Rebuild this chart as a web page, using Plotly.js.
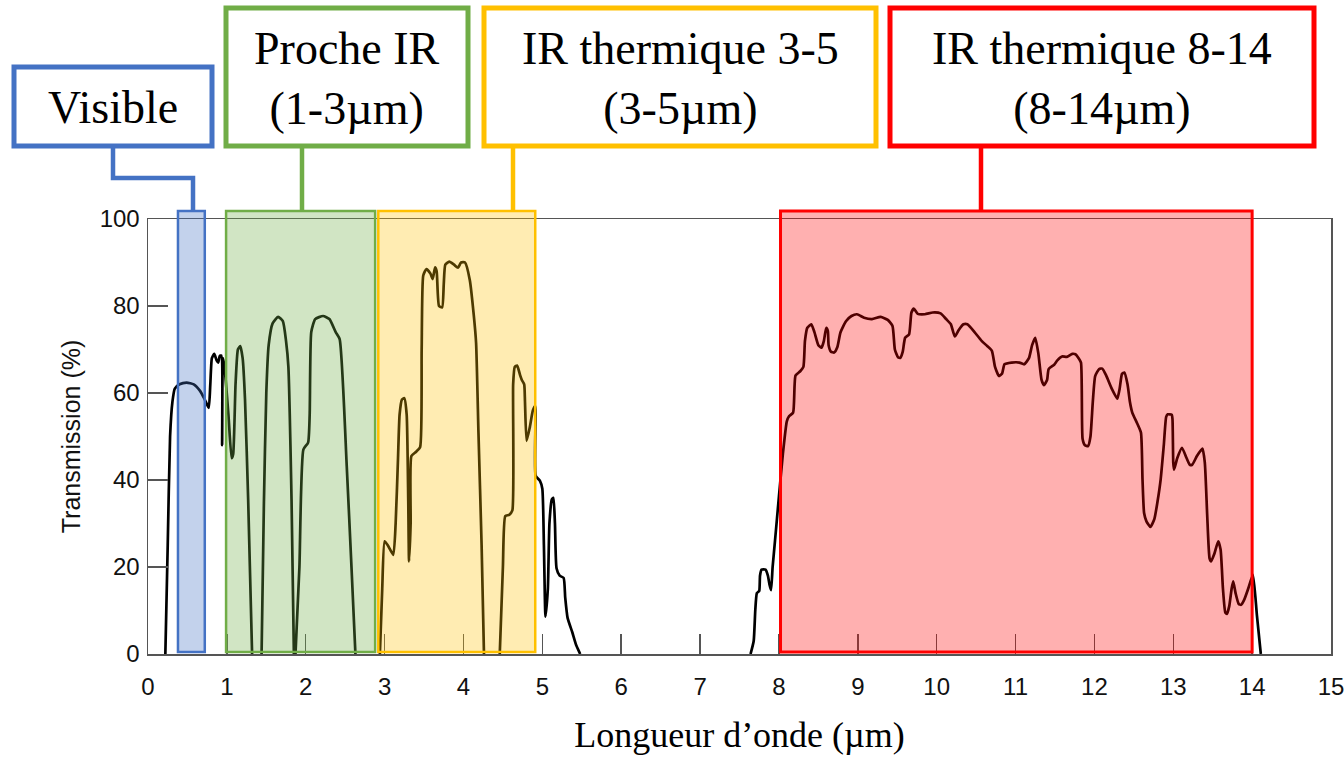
<!DOCTYPE html>
<html>
<head>
<meta charset="utf-8">
<script src="https://cdn.plot.ly/plotly-3.0.1.min.js"></script>
<style>html,body{margin:0;padding:0;background:#fff;}#chart{width:1344px;height:758px;}</style>
</head>
<body>
<div id="chart"></div>
<script>
// Atmospheric transmission curve (wavelength in µm, transmission in %); null breaks the line where it sits at 0
const wavelength = [
  0.22,0.25,0.28,0.31,0.34,0.40,0.49,0.58,0.66,0.72,0.77,0.79,0.81,0.84,0.87,0.89,0.91,0.93,0.94,0.95,0.97,1.02,1.06,1.08,1.11,1.14,1.17,1.20,1.23,1.27,1.32,
  null,
  1.44,1.47,1.50,1.53,1.58,1.65,1.71,1.75,1.78,1.82,1.85,
  null,
  1.87,1.92,1.97,2.03,2.05,2.07,2.12,2.22,2.30,2.38,2.43,2.52,2.58,2.63,
  null,
  2.94,2.97,3.00,3.04,3.11,3.14,3.17,3.19,3.22,3.25,3.28,3.30,3.31,3.33,3.34,3.40,3.45,3.47,3.49,3.53,3.58,3.61,3.64,3.66,3.69,3.73,3.75,3.77,3.82,3.88,3.93,3.97,4.02,4.08,4.13,4.16,4.19,4.23,4.26,
  null,
  4.46,4.50,4.53,4.58,4.62,4.63,4.65,4.68,4.72,4.74,4.77,4.78,4.80,4.84,4.88,4.91,4.915,4.97,5.00,5.02,5.04,5.07,5.09,5.12,5.14,5.16,5.18,5.22,5.27,5.29,5.32,5.38,5.43,5.48,
  null,
  7.64,7.68,7.70,7.72,7.75,7.76,7.78,7.83,7.86,7.88,7.90,7.92,7.95,8.00,8.05,8.10,8.13,8.18,8.21,8.27,8.31,8.33,8.36,8.41,8.45,8.50,8.54,8.57,8.60,8.62,8.63,8.66,8.70,8.74,8.78,8.85,8.92,8.99,9.08,9.18,9.29,9.38,9.44,9.47,9.51,9.54,9.57,9.60,9.65,9.68,9.71,9.76,9.85,9.95,10.05,10.12,10.18,10.23,10.28,10.34,10.39,10.48,10.57,10.64,10.70,10.74,10.79,10.83,10.86,10.95,11.05,11.11,11.17,11.21,11.25,11.29,11.33,11.36,11.40,11.42,11.49,11.53,11.59,11.65,11.72,11.76,11.80,11.83,11.85,11.88,11.92,11.95,11.98,12.01,12.06,12.10,12.15,12.22,12.29,12.32,12.35,12.38,12.42,12.45,12.48,12.54,12.59,12.61,12.63,12.66,12.71,12.76,12.80,12.84,12.88,12.91,12.93,12.98,12.99,13.00,13.01,13.05,13.11,13.17,13.21,13.24,13.30,13.37,13.40,13.43,13.46,13.48,13.52,13.57,13.60,13.63,13.66,13.68,13.71,13.74,13.76,13.79,13.83,13.86,13.90,13.95,14.01,14.06,14.11
];
const transmission = [
  0,25,50,58,61,62,62.4,62,60.5,58.5,56.6,62,68,69,67.5,67,68.5,68.6,48,68,66,55,45,46,62,70,70.8,68,58.5,35.5,0,
  null,
  0,35,60,71,76,77.5,76.5,72,66,35.5,0,
  null,
  0,20,47,48.6,55,74,77,77.7,77,74,72.4,43.2,20,0,
  null,
  0,15,25.9,25,22.8,30,45,55,58.5,58.8,55,35,21.3,30,45.5,46.5,47.5,70,87,88.5,87.5,86.2,88.9,88,80,79.7,85,89.5,90.2,89.5,88.8,90,90,86,78,71.5,51,25,0,
  null,
  0,20,31.7,32,33,62,66,66.3,64,63,62,58,49,52,56,57,41,39.8,38,25,8.6,15,30,35.5,35.9,30,19.7,18,17.5,13,8.3,5,2,0,
  null,
  0,3,10,14,14.5,18,19.4,19.4,18,16,14.7,20,26,36.2,46,53.5,54.7,55.5,64,65,66,72,75,75.8,74,71,70.4,72,75,74.3,71,69.5,69.3,70.5,73.9,76.5,77.7,78.1,77.3,77,77.5,76.8,75.4,70,68.2,68.1,69.5,72.7,73.5,78.5,79.4,78.2,78.1,78.5,78.3,77,75.8,73,74.5,75.8,75.8,74,72,70.8,69.7,66,63.9,64.5,66.6,67,67,66.6,68,71,72.7,69,63,61.8,63,65.5,66.5,67.5,68.4,68.3,69,68.9,68,67,49.5,48,47.8,50,58,63.9,65.5,65.6,64,61,58.7,61,64.4,64.7,62,58,55.5,53.1,50.9,40.1,32.4,30.5,29.2,31,35,40.1,48,54.5,55.1,55,54,44,42.4,45,47.4,45,43.5,43.5,45.5,47.2,44,32,22,21.3,23,25.9,24,15,9.5,9.2,11,15,16.7,14,11.5,11.3,12.5,15,18.2,9,0
];
const xTickValues = [0,1,2,3,4,5,6,7,8,9,10,11,12,13,14,15];
const yTickValues = [0,20,40,60,80,100];

// Spectral bands (µm) and their labels
const bandNames = ["Visible", "Proche IR<br>(1-3µm)", "IR thermique 3-5<br>(3-5µm)", "IR thermique 8-14<br>(8-14µm)"];
const bandStart = [0.38, 0.99, 2.92, 8.02];
const bandEnd = [0.72, 2.88, 4.91, 14.0];
const bandColors = ["#4472C4", "#70AD47", "#FFC000", "#FF0000"];
const bandFills = ["rgba(68,114,196,0.32)", "rgba(112,173,71,0.32)", "rgba(255,192,0,0.30)", "rgba(255,0,0,0.31)"];

// Layout geometry (pixels)
const W = 1344, H = 758;
const L = 148, R = 1331, T = 219, B = 654;
const XMAX = 15;
const px = v => (v - L) / (R - L);          // pixel x -> paper
const py = v => (B - v) / (B - T);          // pixel y -> paper
const dx = v => v / XMAX;                   // data x -> paper

// label boxes in pixels [x0, x1, y0, y1]
const labelBoxes = [
  [14, 212, 67, 146],
  [226, 468, 8, 146],
  [484, 876, 8, 146],
  [890, 1314, 8, 146]
];
// connector paths in pixels
const connectors = [
  [[113,146],[113,178],[193,178],[193,211]],
  [[302,146],[302,211]],
  [[513,146],[513,211]],
  [[981,146],[981,211]]
];

const shapes = [];
const annotations = [];
for (let i = 0; i < bandNames.length; i++) {
  shapes.push({
    type: "rect", xref: "paper", yref: "paper", layer: "above",
    x0: dx(bandStart[i]), x1: dx(bandEnd[i]), y0: py(652), y1: py(211),
    fillcolor: bandFills[i],
    line: {color: bandColors[i], width: i === 3 ? 3 : 2.5}
  });
  const bx = labelBoxes[i];
  shapes.push({
    type: "rect", xref: "paper", yref: "paper", layer: "above",
    x0: px(bx[0]), x1: px(bx[1]), y0: py(bx[3]), y1: py(bx[2]),
    fillcolor: "#ffffff",
    line: {color: bandColors[i], width: 5}
  });
  const c = connectors[i];
  let path = "M " + px(c[0][0]) + " " + py(c[0][1]);
  for (let k = 1; k < c.length; k++) path += " L " + px(c[k][0]) + " " + py(c[k][1]);
  shapes.push({
    type: "path", xref: "paper", yref: "paper", layer: "above",
    path: path, line: {color: bandColors[i], width: 4.5}
  });
  annotations.push({
    xref: "paper", yref: "paper",
    x: px((bx[0] + bx[1]) / 2), y: py((bx[2] + bx[3]) / 2 + 1),
    xanchor: "center", yanchor: "middle", showarrow: false,
    text: bandNames[i], align: "center",
    font: {family: "Liberation Serif, Times New Roman, serif", size: 46, color: "#000"}
  });
}

const trace = {
  x: wavelength, y: transmission,
  type: "scatter", mode: "lines",
  line: {color: "#000000", width: 2.7, shape: "spline", smoothing: 0.5},
  connectgaps: false, hoverinfo: "skip"
};

const layout = {
  width: W, height: H,
  margin: {l: L, r: W - R, t: T, b: H - B, pad: 0},
  paper_bgcolor: "#ffffff", plot_bgcolor: "#ffffff",
  showlegend: false,
  xaxis: {
    range: [0, XMAX], tickvals: xTickValues, ticktext: xTickValues.map(String),
    ticks: "inside", ticklen: 20, tickwidth: 1.5, tickcolor: "#555",
    showline: true, linecolor: "#555", linewidth: 1.5, mirror: true,
    showgrid: false, zeroline: false,
    ticklabelstandoff: 11, ticklabeloverflow: "allow",
    tickfont: {family: "Liberation Sans, Arial, sans-serif", size: 24, color: "#111"},
    title: {text: "Longueur d’onde (µm)", standoff: 22,
            font: {family: "Liberation Serif, Times New Roman, serif", size: 36, color: "#000"}}
  },
  yaxis: {
    range: [0, 100], tickvals: yTickValues, ticktext: yTickValues.map(String),
    ticks: "inside", ticklen: 20, tickwidth: 1.5, tickcolor: "#555",
    showline: true, linecolor: "#555", linewidth: 1.5, mirror: true,
    showgrid: false, zeroline: false,
    ticklabelstandoff: 2, ticklabeloverflow: "allow",
    tickfont: {family: "Liberation Sans, Arial, sans-serif", size: 24, color: "#111"},
    title: {text: "Transmission (%)", standoff: 12,
            font: {family: "Liberation Sans, Arial, sans-serif", size: 25, color: "#111"}}
  },
  shapes: shapes,
  annotations: annotations
};

Plotly.newPlot("chart", [trace], layout, {displayModeBar: false, staticPlot: true});
</script>
</body>
</html>
